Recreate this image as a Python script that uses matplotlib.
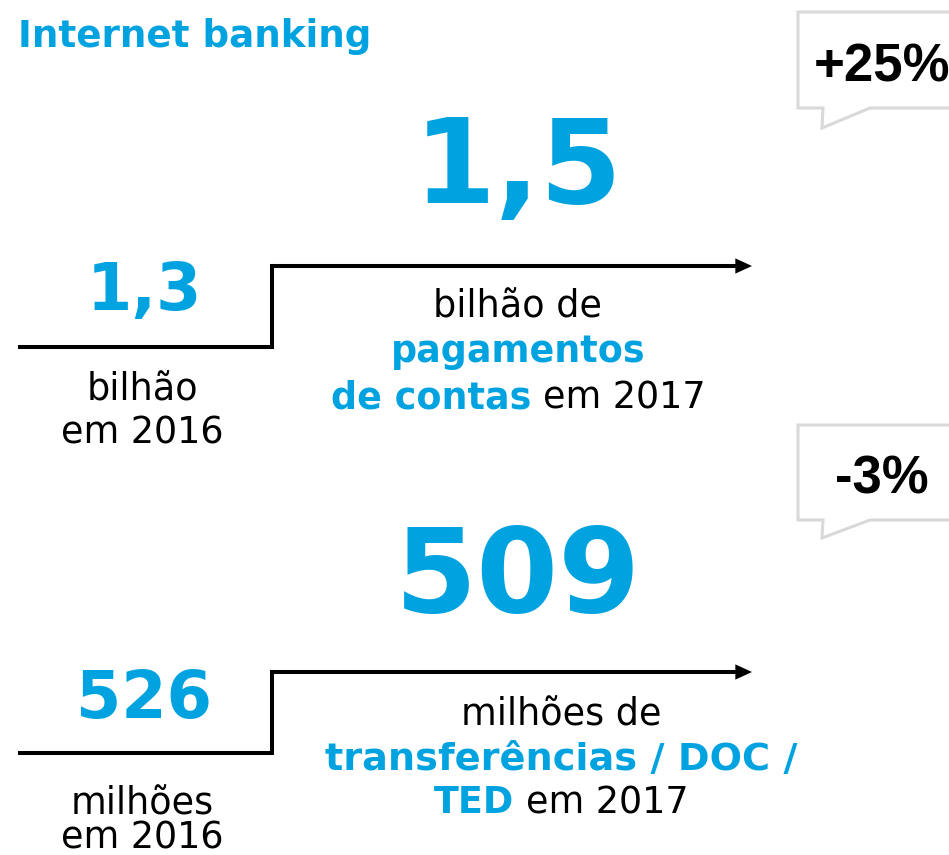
import matplotlib
matplotlib.use("Agg")
import matplotlib.pyplot as plt
from matplotlib.patches import FancyArrowPatch

# ---- data ----
title = "Internet banking"
values_2017 = ["1,5", "509"]
values_2016 = ["1,3", "526"]
changes = ["+25%", "-3%"]
units_2016 = [["bilhão", "em 2016"], ["milhões", "em 2016"]]
desc_2017 = [
    [[("bilhão de", False)], [("pagamentos", True)], [("de contas", True), ("em 2017", False)]],
    [[("milhões de", False)], [("transferências / DOC /", True)], [("TED", True), ("em 2017", False)]],
]

BLUE = "#00A3E0"
GRAY = "#D9D9D9"
FONT = "DejaVu Sans"

W, H = 949, 855
fig = plt.figure(figsize=(W / 100, H / 100), dpi=100)
ax = fig.add_axes([0, 0, 1, 1])
ax.set_xlim(0, W)
ax.set_ylim(H, 0)
ax.axis("off")

ax.text(18, 47, title, fontsize=26.8, fontweight="bold", color=BLUE,
        family=FONT, ha="left", va="baseline")

TXT = 26.3
space_px = 0.318 * TXT / 0.72


def mixed_line(xc, y, parts, size=TXT):
    texts = []
    for s, bold in parts:
        t = ax.text(0, y, s, fontsize=size, family=FONT,
                    fontweight="bold" if bold else "normal",
                    color=BLUE if bold else "black", ha="left", va="baseline")
        texts.append(t)
    fig.canvas.draw()
    r = fig.canvas.get_renderer()
    widths = [t.get_window_extent(renderer=r).width for t in texts]
    total = sum(widths) + space_px * (len(texts) - 1)
    x = xc - total / 2
    for t, w in zip(texts, widths):
        t.set_x(x)
        x += w + space_px


offsets = [0, 406]
for i, dy in enumerate(offsets):
    low_y = 347 + dy
    high_y = 266 + dy
    # step line
    ax.plot([18, 272, 272, 742], [low_y, low_y, high_y, high_y],
            color="black", lw=2.9, solid_joinstyle="miter", solid_capstyle="butt")
    ax.add_patch(FancyArrowPatch((736, high_y), (752, high_y),
                                 arrowstyle="-|>,head_length=1.2,head_width=0.55",
                                 mutation_scale=10, color="black", lw=0,
                                 shrinkA=0, shrinkB=0))
    # big 2017 value
    ax.text(518, 203 + dy + (3 if i else 0), values_2017[i], fontsize=85,
            fontweight="bold", color=BLUE, family=FONT, ha="center", va="baseline")
    # 2016 value
    ax.text(144, 310 + dy + (2 if i else 0), values_2016[i], fontsize=47,
            fontweight="bold", color=BLUE, family=FONT, ha="center", va="baseline")
    # 2016 unit
    base = [400, 443] if i == 0 else [814, 848]
    for s, yb in zip(units_2016[i], base):
        ax.text(142, yb, s, fontsize=TXT, family=FONT, color="black",
                ha="center", va="baseline")
    # 2017 description
    xc = 518 if i == 0 else 561
    bases = [317, 362, 408] if i == 0 else [725, 770, 813]
    for k, (parts, yb) in enumerate(zip(desc_2017[i], bases)):
        size = 27.5 if (i == 1 and k == 1) else TXT
        mixed_line(xc, yb, parts, size)

    # callout
    top = 12 + dy + (1 if i else 0) * 7
    bot = 108 + dy + (1 if i else 0) * 6
    tip = 128 + dy + (1 if i else 0) * 4
    ax.plot([960, 798, 798, 823, 822, 870, 960],
            [top, top, bot, bot, tip, bot, bot],
            color=GRAY, lw=2.2, solid_joinstyle="miter", clip_on=False)
    ax.text(882, (82 if i == 0 else 493), changes[i], fontsize=38,
            fontweight="bold", family="Liberation Sans", color="black",
            ha="center", va="baseline")

fig.savefig("out.png", dpi=100)
